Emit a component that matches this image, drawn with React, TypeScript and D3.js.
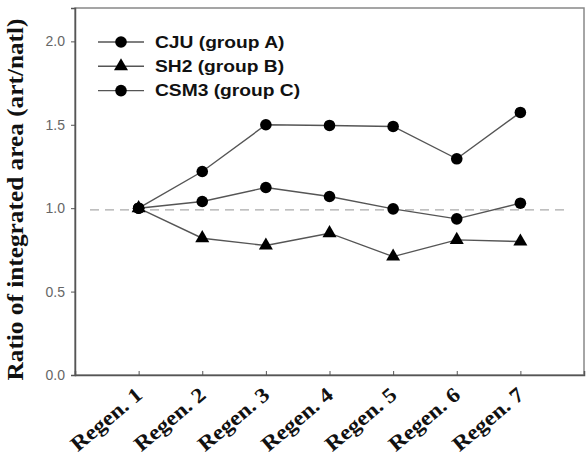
import React, { useEffect, useRef } from 'react';
import * as d3 from 'd3';

// regeneration steps on the x axis
const regenLabels = ['Regen. 1', 'Regen. 2', 'Regen. 3', 'Regen. 4', 'Regen. 5', 'Regen. 6', 'Regen. 7'];

// ratio of integrated area per regeneration
const cjuValues = [1.0, 1.22, 1.5, 1.496, 1.49, 1.296, 1.574];
const sh2Values = [1.0, 0.82, 0.776, 0.85, 0.71, 0.81, 0.8];
const csm3Values = [1.0, 1.04, 1.124, 1.07, 0.996, 0.936, 1.03];

const yTicks = [0, 0.5, 1.0, 1.5, 2.0];
const referenceValue = 0.99;

const seriesNames = ['CJU (group A)', 'SH2 (group B)', 'CSM3 (group C)'];

const App = () => {
  const svgRef = useRef<SVGSVGElement>(null);

  useEffect(() => {
    const svg = d3.select(svgRef.current);
    svg.selectAll('*').remove();

    const width = 587;
    const height = 457;
    const margin = { top: 8, right: 3, bottom: 82, left: 75 };
    const plotW = width - margin.left - margin.right;
    const plotH = height - margin.top - margin.bottom;

    const axisColor = '#555';
    const lineColor = '#555';
    const serif = 'Liberation Serif, Times New Roman, serif';
    const sans = 'Liberation Sans, Arial, sans-serif';

    const x = d3.scaleLinear().domain([0, 8]).range([0, plotW]);
    const y = d3.scaleLinear().domain([0, 2.2]).range([plotH, 0]);

    const g = svg.append('g').attr('transform', `translate(${margin.left},${margin.top})`);

    // frame
    g.append('rect')
      .attr('x', 0)
      .attr('y', 0)
      .attr('width', plotW)
      .attr('height', plotH)
      .attr('fill', 'none')
      .attr('stroke', '#888')
      .attr('stroke-width', 1.5);

    // y axis, ticks pointing out
    const yAxis = g.append('g')
      .call(d3.axisLeft(y).tickValues(yTicks).tickFormat(d3.format('.1f')).tickSize(4).tickPadding(6));
    yAxis.select('.domain').attr('stroke', axisColor).attr('stroke-width', 1.5);
    yAxis.selectAll('line').attr('stroke', axisColor);
    yAxis.selectAll('text')
      .attr('fill', '#666')
      .style('font-family', sans)
      .style('font-size', '14px');

    // x axis, ticks pointing in
    const xAxis = g.append('g')
      .attr('transform', `translate(0,${plotH})`)
      .call(d3.axisBottom(x).tickValues(d3.range(1, 8)).tickSize(-4).tickFormat(() => ''));
    xAxis.select('.domain').attr('stroke', axisColor).attr('stroke-width', 1.5);
    xAxis.selectAll('line').attr('stroke', axisColor);

    // rotated category labels
    g.append('g')
      .selectAll('text')
      .data(regenLabels)
      .join('text')
      .attr('transform', (d, i) => `translate(${x(i + 1) + 5},${plotH + 22}) rotate(-40)`)
      .attr('text-anchor', 'end')
      .attr('fill', '#111')
      .attr('textLength', 86)
      .attr('lengthAdjust', 'spacingAndGlyphs')
      .style('font-family', serif)
      .style('font-weight', 'bold')
      .style('font-size', '21px')
      .text(d => d);

    // y axis title
    svg.append('text')
      .attr('transform', `translate(23,${margin.top + plotH / 2 + 8}) rotate(-90)`)
      .attr('text-anchor', 'middle')
      .attr('fill', '#111')
      .attr('textLength', 362)
      .attr('lengthAdjust', 'spacingAndGlyphs')
      .style('font-family', serif)
      .style('font-weight', 'bold')
      .style('font-size', '24px')
      .text('Ratio of integrated area (art/natl)');

    // dashed reference line
    g.append('line')
      .attr('x1', 15)
      .attr('x2', plotW - 17)
      .attr('y1', y(referenceValue))
      .attr('y2', y(referenceValue))
      .attr('stroke', '#aaa')
      .attr('stroke-width', 1.2)
      .attr('stroke-dasharray', '9 6');

    const line = d3.line<number>()
      .x((d, i) => x(i + 1))
      .y(d => y(d));

    const triangle = d3.symbol().type(d3.symbolTriangle).size(85);

    const series = [
      { values: cjuValues, shape: 'circle' },
      { values: sh2Values, shape: 'triangle' },
      { values: csm3Values, shape: 'circle' },
    ];

    series.forEach(s => {
      g.append('path')
        .datum(s.values)
        .attr('fill', 'none')
        .attr('stroke', lineColor)
        .attr('stroke-width', 1.4)
        .attr('d', line);
    });

    series.forEach(s => {
      if (s.shape === 'circle') {
        g.append('g')
          .selectAll('circle')
          .data(s.values)
          .join('circle')
          .attr('cx', (d, i) => x(i + 1))
          .attr('cy', d => y(d))
          .attr('r', 5.8)
          .attr('fill', '#000');
      } else {
        g.append('g')
          .selectAll('path')
          .data(s.values)
          .join('path')
          .attr('transform', (d, i) => `translate(${x(i + 1)},${y(d)})`)
          .attr('d', triangle)
          .attr('fill', '#000');
      }
    });

    // legend
    const legend = svg.append('g').attr('transform', 'translate(98,42)');
    series.forEach((s, i) => {
      const row = legend.append('g').attr('transform', `translate(0,${i * 24.3})`);
      row.append('line')
        .attr('x1', 0)
        .attr('x2', 46)
        .attr('stroke', lineColor)
        .attr('stroke-width', 1.4);
      if (s.shape === 'circle') {
        row.append('circle').attr('cx', 23).attr('r', 5.8).attr('fill', '#000');
      } else {
        row.append('path').attr('transform', 'translate(23,0)').attr('d', triangle).attr('fill', '#000');
      }
      const label = row.append('text')
        .attr('x', 57)
        .attr('dy', '0.36em')
        .attr('fill', '#111')
        .style('font-family', sans)
        .style('font-weight', 'bold')
        .style('font-size', '16px')
        .text(seriesNames[i]);
      // legend text is set wider than the plain glyphs
      const natural = (label.node() as SVGTextElement).getComputedTextLength();
      label.attr('textLength', natural * 1.2).attr('lengthAdjust', 'spacingAndGlyphs');
    });
  }, []);

  return (
    <svg
      ref={svgRef}
      width={587}
      height={457}
      style={{ position: 'absolute', left: 0, top: 0, background: '#fff' }}
    />
  );
};

export default App;
